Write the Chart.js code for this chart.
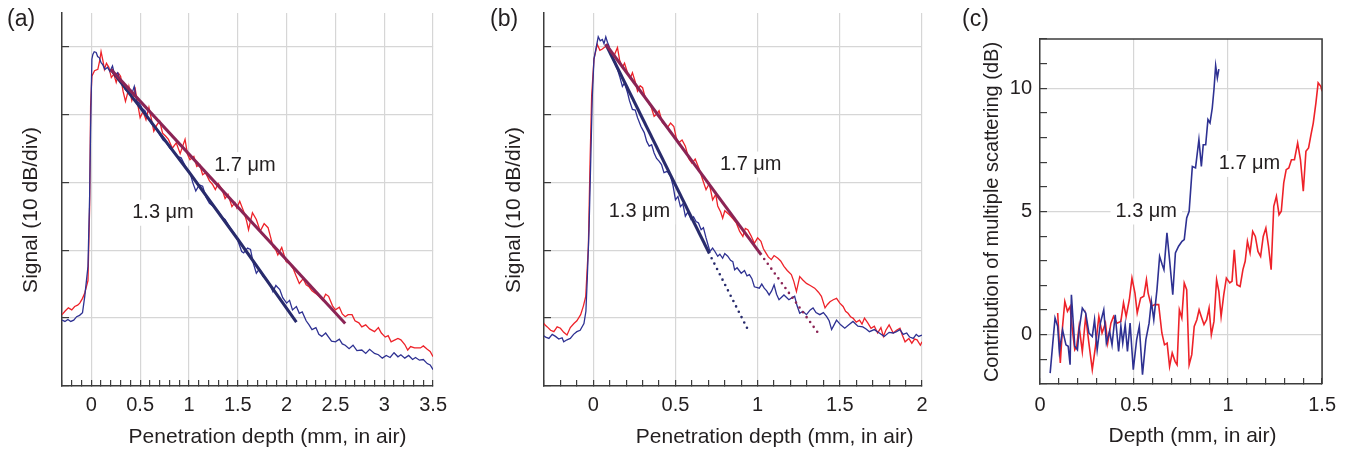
<!DOCTYPE html>
<html>
<head>
<meta charset="utf-8">
<script src="https://cdn.jsdelivr.net/npm/chart.js@4.4.0/dist/chart.umd.min.js"></script>
<style>
  html, body { margin: 0; padding: 0; background: #fff; }
  body { width: 1351px; height: 452px; position: relative; overflow: hidden; font-family: "Liberation Sans", Arial, sans-serif; }
  .panel { position: absolute; top: 0; }
  .tag { position: absolute; top: 7px; font-size: 23px; line-height: 23px; color: #231f20; }
</style>
</head>
<body>
<div class="panel" style="left:0px"><canvas id="chartA" width="460" height="452"></canvas></div>
<div class="panel" style="left:482px"><canvas id="chartB" width="460" height="452"></canvas></div>
<div class="panel" style="left:960px"><canvas id="chartC" width="391" height="452"></canvas></div>
<div class="tag" style="left:7px">(a)</div>
<div class="tag" style="left:490px">(b)</div>
<div class="tag" style="left:962px">(c)</div>
<script>
// ---- (a) signal vs penetration depth, dB above the bottom of the axis (10 dB/div)
const depthA13 = [-0.30, -0.27, -0.24, -0.21, -0.18, -0.15, -0.12, -0.09, -0.067, -0.034, -0.017, -0.007, 0.006, 0.016, 0.03, 0.05, 0.065, 0.083, 0.10, 0.117,
  0.14, 0.167, 0.19, 0.217, 0.24, 0.27, 0.295, 0.32, 0.35, 0.385, 0.41, 0.44, 0.465, 0.49, 0.52, 0.55, 0.585, 0.62, 0.66, 0.70,
  0.735, 0.77, 0.805, 0.84, 0.88, 0.92, 0.965, 1.01, 1.04, 1.07, 1.105, 1.14, 1.175, 1.21, 1.26, 1.31, 1.34, 1.37, 1.42, 1.46,
  1.49, 1.52, 1.54, 1.56, 1.60, 1.63, 1.66, 1.69, 1.72, 1.76, 1.80, 1.83, 1.86, 1.89, 1.93, 1.96, 2.00, 2.03, 2.06, 2.10,
  2.13, 2.16, 2.20, 2.23, 2.26, 2.30, 2.33, 2.36, 2.40, 2.43, 2.46, 2.50, 2.54, 2.57, 2.60, 2.64, 2.68, 2.72, 2.77, 2.81,
  2.85, 2.90, 2.94, 2.98, 3.02, 3.06, 3.10, 3.14, 3.17, 3.21, 3.25, 3.29, 3.32, 3.36, 3.40, 3.44, 3.47, 3.50];
const signalA13 = [9.7, 9.5, 9.8, 9.5, 9.7, 10.2, 10.4, 10.8, 13.2, 17.6, 28.0, 38.0, 48.1, 48.8, 49.2, 49.1, 48.5, 48.3, 47.6, 47.3,
  46.6, 46.9, 46.3, 47.1, 45.7, 46.1, 45.0, 44.6, 43.6, 43.2, 42.8, 44.1, 41.9, 41.7, 40.9, 40.5, 39.4, 38.5, 37.9, 37.0,
  36.2, 35.8, 35.0, 34.6, 33.8, 33.6, 32.3, 31.4, 29.9, 28.7, 29.6, 29.4, 27.8, 26.9, 26.3, 25.5, 24.8, 24.5, 23.3, 22.5,
  21.8, 20.6, 19.8, 19.6, 20.3, 20.1, 18.0, 16.6, 17.2, 16.1, 15.6, 14.9, 13.9, 14.8, 14.2, 13.0, 12.2, 12.6, 11.2, 11.7,
  10.7, 10.9, 9.6, 9.0, 8.3, 8.6, 7.6, 7.3, 7.8, 7.2, 6.6, 6.5, 6.9, 6.2, 6.0, 5.5, 6.0, 5.2, 5.3, 4.8,
  5.4, 4.8, 4.6, 4.1, 4.5, 4.2, 4.9, 4.3, 4.6, 4.1, 4.5, 3.9, 4.2, 3.8, 3.9, 3.3, 3.1, 2.4];
const depthA17 = [-0.30, -0.27, -0.235, -0.20, -0.17, -0.14, -0.118, -0.09, -0.067, -0.034, -0.017, -0.007, 0.006, 0.033, 0.067, 0.085, 0.10, 0.12, 0.134, 0.155,
  0.18, 0.205, 0.23, 0.255, 0.28, 0.30, 0.325, 0.35, 0.37, 0.385, 0.415, 0.45, 0.475, 0.50, 0.53, 0.56, 0.59, 0.615, 0.64, 0.67,
  0.70, 0.73, 0.76, 0.79, 0.83, 0.87, 0.91, 0.96, 0.985, 1.01, 1.05, 1.08, 1.11, 1.14, 1.17, 1.21, 1.24, 1.27, 1.30, 1.34,
  1.37, 1.40, 1.44, 1.47, 1.49, 1.52, 1.56, 1.59, 1.61, 1.65, 1.69, 1.73, 1.77, 1.81, 1.84, 1.86, 1.89, 1.91, 1.95, 1.995,
  2.03, 2.07, 2.10, 2.13, 2.17, 2.20, 2.23, 2.26, 2.30, 2.33, 2.37, 2.40, 2.43, 2.47, 2.50, 2.54, 2.57, 2.60, 2.63, 2.67,
  2.70, 2.74, 2.77, 2.81, 2.85, 2.90, 2.94, 2.97, 3.01, 3.04, 3.07, 3.11, 3.14, 3.17, 3.21, 3.24, 3.27, 3.31, 3.34, 3.37,
  3.40, 3.44, 3.47, 3.50];
const signalA17 = [10.5, 11.0, 11.5, 11.2, 11.7, 11.9, 12.2, 12.9, 13.7, 15.5, 26.4, 41.2, 45.6, 46.4, 46.6, 47.8, 49.2, 47.8, 46.6, 47.5,
  46.9, 45.4, 45.9, 44.7, 46.0, 45.6, 43.4, 41.9, 43.0, 44.1, 42.0, 43.7, 41.5, 39.5, 40.4, 39.2, 41.0, 39.3, 37.5, 38.4,
  39.0, 37.2, 36.8, 36.3, 35.0, 35.8, 34.2, 36.3, 34.1, 33.3, 33.8, 32.3, 32.6, 31.1, 31.4, 30.2, 29.7, 28.9, 29.8, 28.9,
  27.6, 28.2, 26.4, 27.0, 26.2, 27.2, 25.7, 24.3, 23.0, 25.5, 24.5, 22.8, 23.9, 23.3, 21.7, 20.5, 20.0, 19.3, 20.4, 18.3,
  18.0, 17.2, 16.1, 15.1, 15.8, 14.9, 14.6, 14.0, 13.6, 13.2, 12.6, 13.5, 13.2, 11.8, 11.2, 11.6, 10.6, 10.2, 10.5, 10.5,
  9.6, 9.3, 8.7, 9.0, 8.4, 8.0, 8.6, 7.8, 7.2, 7.4, 6.5, 6.8, 7.0, 6.8, 6.1, 5.3, 5.8, 5.6, 5.6, 5.6,
  5.9, 5.4, 5.1, 4.3];
const fitA13X = [0.2, 0.5, 1.0, 1.5, 2.1];
const fitA13Y = [46.6, 41.0, 31.5, 21.6, 9.4];
const fitA17X = [0.2, 2.6];
const fitA17Y = [46.6, 9.2];

// ---- (b)
const depthB13 = [-0.31, -0.29, -0.27, -0.25, -0.23, -0.21, -0.19, -0.18, -0.16, -0.14, -0.12, -0.10, -0.08, -0.057, -0.045, -0.037, -0.026, -0.016, -0.006, 0.004,
  0.015, 0.03, 0.042, 0.055, 0.065, 0.076, 0.086, 0.096, 0.106, 0.116, 0.13, 0.147, 0.16, 0.177, 0.19, 0.208, 0.22, 0.238, 0.255, 0.269,
  0.29, 0.31, 0.325, 0.34, 0.355, 0.37, 0.385, 0.40, 0.415, 0.43, 0.45, 0.47, 0.485, 0.50, 0.515, 0.53, 0.545, 0.56, 0.575, 0.595,
  0.61, 0.625, 0.64, 0.656, 0.67, 0.686, 0.70, 0.71, 0.726, 0.74, 0.757, 0.77, 0.787, 0.80, 0.818, 0.835, 0.849, 0.86, 0.875, 0.90,
  0.92, 0.935, 0.95, 0.965, 0.98, 1.01, 1.025, 1.04, 1.055, 1.07, 1.085, 1.10, 1.115, 1.13, 1.16, 1.19, 1.21, 1.225, 1.24, 1.256,
  1.275, 1.297, 1.32, 1.337, 1.355, 1.378, 1.40, 1.42, 1.435, 1.45, 1.465, 1.48, 1.505, 1.53, 1.555, 1.58, 1.61, 1.64, 1.66, 1.68,
  1.71, 1.74, 1.77, 1.80, 1.825, 1.845, 1.866, 1.885, 1.907, 1.925, 1.947, 1.965, 1.98, 2.00];
const signalB13 = [7.5, 7.2, 7.0, 7.6, 7.3, 6.9, 7.1, 6.5, 6.8, 7.0, 7.6, 8.0, 8.2, 9.2, 11.0, 15.6, 23.0, 32.8, 42.7, 48.1,
  49.5, 51.4, 50.8, 51.0, 50.4, 51.4, 50.6, 50.0, 49.0, 48.3, 47.5, 46.6, 45.6, 44.1, 44.6, 43.2, 42.0, 40.7, 40.6, 39.5,
  38.2, 37.3, 36.0, 35.3, 35.5, 34.3, 33.5, 33.1, 32.6, 31.4, 31.6, 30.9, 29.5, 27.4, 27.9, 26.4, 26.8, 25.0, 25.6, 24.5,
  24.9, 24.2, 24.0, 23.0, 23.3, 21.8, 20.6, 19.8, 20.3, 19.8, 19.1, 19.4, 18.8, 19.5, 19.1, 18.5, 18.3, 17.1, 17.4, 16.6,
  17.0, 16.2, 16.4, 15.8, 14.6, 14.4, 15.0, 14.4, 14.0, 13.4, 14.0, 14.9, 13.5, 12.7, 13.4, 12.7, 13.0, 13.2, 11.8, 10.7,
  11.0, 10.5, 11.2, 11.5, 10.8, 10.5, 10.8, 10.2, 9.6, 8.3, 9.0, 9.7, 9.0, 8.5, 9.0, 9.5, 8.8, 8.7, 8.4, 8.0,
  8.3, 7.8, 7.3, 7.9, 7.8, 8.0, 8.3, 7.6, 7.8, 7.2, 7.0, 7.6, 7.3, 7.5];
const depthB17 = [-0.31, -0.295, -0.28, -0.26, -0.24, -0.22, -0.20, -0.18, -0.16, -0.14, -0.118, -0.10, -0.077, -0.06, -0.046, -0.03, -0.02, -0.01, 0.004, 0.024,
  0.04, 0.055, 0.076, 0.096, 0.11, 0.126, 0.147, 0.16, 0.177, 0.19, 0.208, 0.225, 0.238, 0.255, 0.269, 0.285, 0.30, 0.315, 0.33, 0.35,
  0.37, 0.385, 0.40, 0.42, 0.45, 0.47, 0.49, 0.505, 0.52, 0.54, 0.56, 0.58, 0.60, 0.62, 0.645, 0.665, 0.686, 0.706, 0.726, 0.745,
  0.757, 0.775, 0.787, 0.80, 0.828, 0.85, 0.87, 0.89, 0.91, 0.925, 0.94, 0.96, 0.98, 1.00, 1.02, 1.035, 1.05, 1.065, 1.083, 1.10,
  1.123, 1.14, 1.16, 1.18, 1.205, 1.22, 1.236, 1.256, 1.275, 1.297, 1.32, 1.347, 1.37, 1.388, 1.41, 1.425, 1.44, 1.46, 1.48, 1.50,
  1.52, 1.535, 1.55, 1.565, 1.58, 1.60, 1.62, 1.635, 1.65, 1.67, 1.69, 1.71, 1.73, 1.75, 1.765, 1.78, 1.80, 1.825, 1.845, 1.866,
  1.88, 1.897, 1.92, 1.938, 1.955, 1.97, 1.99, 2.00];
const signalB17 = [9.5, 9.0, 8.7, 8.2, 8.0, 8.7, 8.5, 7.9, 7.5, 8.6, 9.2, 9.6, 10.5, 11.8, 13.2, 20.5, 32.8, 42.7, 48.1, 50.3,
  49.4, 49.6, 50.0, 49.6, 48.8, 48.6, 49.8, 48.0, 46.9, 47.5, 46.1, 45.3, 46.1, 44.8, 43.4, 44.2, 43.9, 42.5, 41.9, 41.2,
  39.7, 40.0, 40.5, 38.8, 38.0, 38.7, 38.2, 36.5, 35.8, 36.2, 35.3, 33.5, 32.8, 33.4, 31.9, 30.4, 28.9, 29.8, 27.4, 28.2,
  26.5, 25.6, 24.7, 25.8, 25.2, 24.6, 24.0, 22.8, 22.0, 23.2, 23.0, 22.1, 21.0, 21.8, 21.3, 20.2, 19.6, 19.0, 18.6, 19.2,
  18.8, 18.4, 17.6, 17.0, 16.4, 15.4, 13.9, 16.1, 15.6, 15.1, 14.8, 14.4, 13.8, 13.2, 11.5, 12.0, 12.4, 12.7, 12.9, 12.2,
  11.7, 11.0, 10.7, 10.2, 10.0, 9.4, 9.7, 9.1, 10.0, 9.3, 8.5, 8.8, 7.8, 8.6, 7.3, 8.2, 9.0, 7.8, 8.2, 8.5,
  7.5, 6.5, 7.0, 6.3, 6.9, 6.8, 6.0, 6.5];
const fitB13X = [0.076, 0.706];
const fitB13Y = [50.3, 19.5];
const dotB13X = [0.72, 0.951];
const dotB13Y = [18.8, 7.8];
const fitB17X = [0.076, 1.022];
const fitB17Y = [50.3, 19.3];
const dotB17X = [1.04, 1.368];
const dotB17Y = [18.7, 7.8];

// ---- (c) contribution of multiple scattering (dB) vs depth
const depthC13 = [0.054, 0.068, 0.080, 0.094, 0.103, 0.120, 0.138, 0.150, 0.160, 0.167, 0.185, 0.199, 0.208, 0.225, 0.243, 0.260, 0.278, 0.290, 0.304, 0.321,
  0.339, 0.353, 0.370, 0.383, 0.400, 0.418, 0.430, 0.440, 0.453, 0.465, 0.479, 0.496, 0.514, 0.528, 0.545, 0.563, 0.580, 0.592, 0.605, 0.622,
  0.636, 0.650, 0.659, 0.675, 0.689, 0.706, 0.720, 0.737, 0.755, 0.767, 0.780, 0.793, 0.810, 0.827, 0.845, 0.858, 0.868, 0.881, 0.893, 0.904,
  0.916, 0.925, 0.934, 0.943, 0.951];
const msC13 = [-1.56, -0.34, 0.68, 0.34, -0.68, 0.20, -0.41, -0.47, -1.22, 1.62, -0.47, -0.61, 0.20, 1.08, 0.88, 0.07, -0.07, 0.61, -0.61, 0.47,
  1.01, -0.34, 0.14, -0.41, 0.81, -0.68, 0.34, -0.34, 0.41, -0.68, 0.47, -1.42, -0.20, 0.34, -1.62, -0.20, 0.47, 1.35, 0.61, 1.83,
  3.18, 2.84, 2.64, 4.13, 3.04, 1.62, 3.32, 3.59, 3.79, 3.86, 4.74, 5.01, 6.83, 6.77, 7.92, 6.83, 7.71, 7.71, 8.73, 8.59,
  9.20, 9.95, 10.92, 10.42, 10.78];
const depthC17 = [0.094, 0.108, 0.120, 0.132, 0.146, 0.160, 0.172, 0.185, 0.195, 0.208, 0.225, 0.243, 0.260, 0.278, 0.295, 0.313, 0.330, 0.348, 0.360, 0.377,
  0.391, 0.409, 0.430, 0.444, 0.458, 0.475, 0.489, 0.505, 0.517, 0.535, 0.552, 0.566, 0.575, 0.592, 0.610, 0.631, 0.648, 0.662, 0.676, 0.689,
  0.703, 0.718, 0.729, 0.741, 0.754, 0.767, 0.780, 0.793, 0.807, 0.820, 0.834, 0.846, 0.860, 0.872, 0.886, 0.899, 0.911, 0.925, 0.939, 0.951,
  0.963, 0.977, 0.991, 1.009, 1.021, 1.033, 1.047, 1.064, 1.079, 1.091, 1.103, 1.117, 1.131, 1.145, 1.159, 1.173, 1.187, 1.201, 1.215, 1.229,
  1.243, 1.257, 1.271, 1.283, 1.296, 1.309, 1.323, 1.337, 1.353, 1.370, 1.385, 1.400, 1.414, 1.428, 1.441, 1.453, 1.467, 1.479, 1.493, 1.500];
const msC17 = [0.88, -1.15, 0.34, 1.35, 0.95, 1.15, 0.20, -0.61, -0.47, 0.34, -0.68, 0.74, -0.34, -1.42, -0.47, 0.74, 0.07, 0.47, -0.34, 0.47,
  0.74, 0.47, 0.54, 1.29, 0.74, 1.42, 2.30, 1.69, 0.88, 1.49, 1.56, 2.23, 1.69, 1.15, 1.22, 1.22, 0.07, -0.41, -0.34, -1.29,
  -0.74, -1.08, -1.22, 1.01, 0.68, 2.10, 1.83, -1.22, -0.81, 0.34, 0.61, 1.01, 0.68, 0.41, 0.61, 1.08, 0.00, 0.54, 2.23, 1.76,
  0.74, 1.62, 2.30, 2.10, 2.17, 3.45, 2.03, 1.96, 2.64, 2.98, 3.79, 3.32, 4.19, 3.99, 3.38, 3.18, 3.99, 4.33, 3.59, 2.64,
  5.21, 5.62, 4.87, 5.01, 6.16, 6.70, 6.77, 7.10, 7.10, 7.78, 7.10, 5.82, 7.44, 7.58, 8.12, 8.59, 9.40, 10.22, 10.08, 9.88];

const INK = '#231f20';
const AXIS = '#3c3c3c';
const GRID = '#d6d6d6';
const CLEAR = 'rgba(0,0,0,0)';
const FONT = '"Liberation Sans", Arial, Helvetica, sans-serif';
const BLUE = '#2e3192', RED = '#ee2229', BLUE_FIT = '#282b6c', RED_FIT = '#8b2455';
const MU = '\u03bcm';

function pts(xs, ys) {
  return xs.map((x, i) => ({ x: x, y: ys[i] }));
}

function series(xs, ys, color, width, dotted) {
  return {
    data: pts(xs, ys),
    borderColor: color,
    borderWidth: width,
    pointRadius: 0,
    tension: 0,
    fill: false,
    borderDash: dotted ? [0, 6] : [],
    borderCapStyle: dotted ? 'round' : 'butt'
  };
}

function onStep(v, step) {
  return Math.abs(v / step - Math.round(v / step)) < 1e-6;
}

// labels on the plot, axis titles, optional closed frame
const panelText = {
  id: 'panelText',
  beforeDatasetsDraw(chart, args, o) {
    const { ctx, scales } = chart;
    ctx.save();
    ctx.font = '20px ' + FONT;
    ctx.textAlign = 'center';
    ctx.textBaseline = 'middle';
    o.notes.forEach(n => {
      const px = scales.x.getPixelForValue(n.x);
      const py = scales.y.getPixelForValue(n.y);
      const w = ctx.measureText(n.text).width;
      ctx.fillStyle = '#fff';
      ctx.fillRect(px - w / 2 - 5, py - 13, w + 10, 26);
      ctx.fillStyle = INK;
      ctx.fillText(n.text, px, py);
    });
    ctx.restore();
  },
  afterDraw(chart, args, o) {
    const { ctx, chartArea: a } = chart;
    ctx.save();
    if (o.frame) {
      ctx.strokeStyle = AXIS;
      ctx.lineWidth = 1.5;
      ctx.beginPath();
      ctx.moveTo(a.left, a.top);
      ctx.lineTo(a.right, a.top);
      ctx.lineTo(a.right, a.bottom);
      ctx.stroke();
    }
    ctx.fillStyle = INK;
    ctx.textAlign = 'center';
    ctx.textBaseline = 'alphabetic';
    ctx.font = o.xTitle.size + 'px ' + FONT;
    ctx.fillText(o.xTitle.text, o.xTitle.cx, o.xTitle.base);
    ctx.translate(o.yTitle.base, o.yTitle.cy);
    ctx.rotate(-Math.PI / 2);
    ctx.font = o.yTitle.size + 'px ' + FONT;
    ctx.fillText(o.yTitle.text, 0, 0);
    ctx.restore();
  }
};

function makePanel(id, p) {
  return new Chart(document.getElementById(id), {
    type: 'line',
    data: { datasets: p.datasets },
    options: {
      responsive: false,
      animation: false,
      devicePixelRatio: 1,
      layout: { padding: p.padding },
      plugins: {
        legend: { display: false },
        tooltip: { enabled: false },
        panelText: p.text
      },
      scales: {
        x: {
          type: 'linear',
          min: p.xMin,
          max: p.xMax,
          afterFit: s => { s.height = p.xHeight; },
          grid: {
            color: c => (c.tick && onStep(c.tick.value, 0.5)) ? GRID : CLEAR,
            tickColor: AXIS,
            tickLength: -6,
            lineWidth: 1.2
          },
          border: { color: AXIS, width: 1.5 },
          ticks: {
            stepSize: 0.1,
            autoSkip: false,
            maxRotation: 0,
            padding: p.xPad,
            color: INK,
            font: { family: FONT, size: 20 },
            callback: v => onStep(v, 0.5) ? String(Math.round(v * 10) / 10) : ''
          }
        },
        y: {
          min: p.yMin,
          max: p.yMax,
          afterFit: s => { s.width = p.yWidth; },
          grid: {
            color: c => (c.tick && c.tick.value > p.yMin && onStep(c.tick.value, p.yGrid)) ? GRID : CLEAR,
            tickColor: c => (c.tick && onStep(c.tick.value, p.yStep)) ? AXIS : CLEAR,
            tickLength: -7,
            lineWidth: 1.2
          },
          border: { color: AXIS, width: 1.5 },
          ticks: {
            stepSize: p.yStep,
            display: p.yLabels,
            autoSkip: false,
            padding: 15,
            color: INK,
            font: { family: FONT, size: 20 },
            callback: v => onStep(v, p.yGrid) ? String(v) : ''
          }
        }
      }
    },
    plugins: [panelText]
  });
}

makePanel('chartA', {
  datasets: [
    series(fitA17X, fitA17Y, RED_FIT, 3),
    series(fitA13X, fitA13Y, BLUE_FIT, 3),
    series(depthA13, signalA13, BLUE, 1.3),
    series(depthA17, signalA17, RED, 1.3)
  ],
  padding: { left: 0, right: 20, top: 13, bottom: 0 },
  xMin: -0.3, xMax: 3.5, xHeight: 66, xPad: 13,
  yMin: 0, yMax: 54.9, yStep: 10, yGrid: 10, yWidth: 62, yLabels: false,
  text: {
    notes: [{ text: '1.7 ' + MU, x: 1.573, y: 32.5 }, { text: '1.3 ' + MU, x: 0.734, y: 25.5 }],
    xTitle: { text: 'Penetration depth (mm, in air)', cx: 267.5, base: 443, size: 21 },
    yTitle: { text: 'Signal (10 dB/div)', cy: 210, base: 37, size: 21 }
  }
});

makePanel('chartB', {
  datasets: [
    series(fitB17X, fitB17Y, RED_FIT, 3),
    series(fitB13X, fitB13Y, BLUE_FIT, 3),
    series(dotB17X, dotB17Y, RED_FIT, 2.6, true),
    series(dotB13X, dotB13Y, BLUE_FIT, 2.6, true),
    series(depthB13, signalB13, BLUE, 1.3),
    series(depthB17, signalB17, RED, 1.3)
  ],
  padding: { left: 0, right: 20, top: 13, bottom: 0 },
  xMin: -0.3, xMax: 2, xHeight: 66, xPad: 13,
  yMin: 0, yMax: 54.9, yStep: 10, yGrid: 10, yWidth: 62, yLabels: false,
  text: {
    notes: [{ text: '1.7 ' + MU, x: 0.958, y: 32.6 }, { text: '1.3 ' + MU, x: 0.281, y: 25.7 }],
    xTitle: { text: 'Penetration depth (mm, in air)', cx: 292.7, base: 443, size: 21 },
    yTitle: { text: 'Signal (10 dB/div)', cy: 210, base: 38, size: 21 }
  }
});

makePanel('chartC', {
  datasets: [
    series(depthC13, msC13, BLUE, 1.6),
    series(depthC17, msC17, RED, 1.6)
  ],
  padding: { left: 0, right: 24, top: 39, bottom: 0 },
  xMin: 0, xMax: 1.5, xHeight: 68, xPad: 15,
  yMin: -2, yMax: 12, yStep: 1, yGrid: 5, yWidth: 80, yLabels: true,
  text: {
    frame: true,
    notes: [{ text: '1.3 ' + MU, x: 0.565, y: 5.0 }, { text: '1.7 ' + MU, x: 1.114, y: 6.93 }],
    xTitle: { text: 'Depth (mm, in air)', cx: 232.5, base: 442, size: 21 },
    yTitle: { text: 'Contribution of multiple scattering (dB)', cy: 212, base: 38, size: 20 }
  }
});
</script>
</body>
</html>
